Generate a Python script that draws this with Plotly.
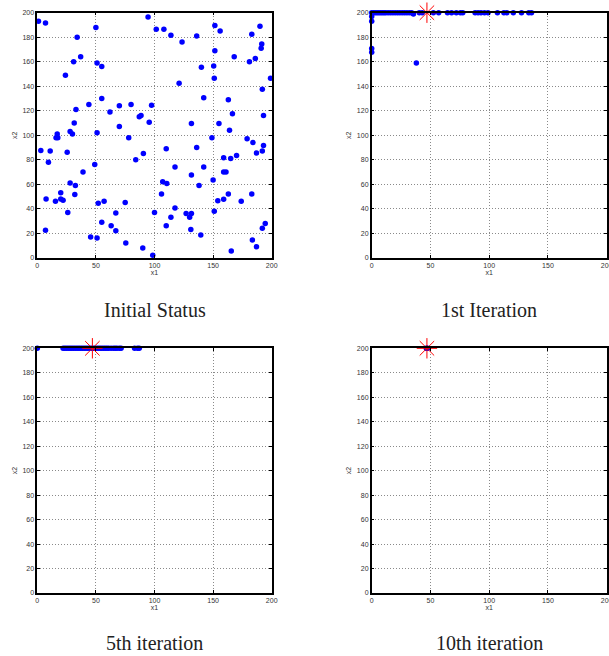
import plotly.graph_objects as go

# ---------------- data ----------------
init_x = [1, 7, 50, 34, 37, 31, 51, 55, 24, 55, 44, 70, 62, 33, 31.5, 80, 87, 88.5, 70, 28, 30, 17, 16, 17.5, 51, 78,
          3, 11, 9.5, 25.5, 49, 39, 84, 28, 32.5, 20, 32, 7.5, 20, 22, 15.5, 57, 52, 75, 26, 67, 7, 55, 63, 67, 45.5, 51, 75.5,
          164, 149, 179, 184, 193, 192, 187, 170, 159, 165, 110, 90.5, 136, 117.5, 142, 131.5, 159, 161, 107, 110.5, 138, 150,
          106, 163, 183, 154, 159, 174, 117.5, 100, 151, 127, 131.5, 130, 114, 110, 194.5, 192, 131, 139.5, 183.5, 187, 90, 98.5, 165.5,
          94.5, 101.5, 108, 114, 123.5, 136, 151.5, 156, 183, 190, 191.5, 191, 151.5, 168, 181, 186, 140, 150.5, 151, 199, 121, 192,
          142, 163, 97.5, 95.5, 131.5, 155, 166.5, 193]
init_y = [193, 191.5, 188, 180, 164, 160, 159, 156, 149, 130, 125, 124, 119, 121, 110, 125, 115, 116, 107, 103, 101, 101, 98, 98, 102, 98,
          87.5, 87, 78, 86, 76, 70, 80, 61, 59, 53, 51.5, 48, 48, 47, 46, 46, 44.5, 45, 37, 36.5, 22.5, 29, 26, 22, 17, 16, 12,
          104, 98, 97, 94, 91.5, 87, 85.5, 83.5, 81.5, 81, 89, 85, 90, 74, 74, 67.5, 70, 70, 62, 60.5, 59, 63.5,
          52, 52, 52, 46.5, 47.7, 46, 40.5, 37, 38, 36, 36, 33, 33, 26, 28, 24, 23, 18.5, 14.5, 9, 8, 2, 5.5,
          196.5, 186.5, 186.5, 181.5, 176, 181, 189.5, 185, 182.5, 189, 174.5, 171, 169, 164, 160, 162.7, 155.5, 156.5, 146.5, 146.5, 142.5, 137.5,
          130.5, 129, 124.5, 110.5, 109.5, 109.5, 117.5, 116]

it1_x = [0, 0, 0, 0, 0, 38, 1.5, 3, 4.5, 6, 7.5, 9, 10.5, 12, 14, 16, 18, 20, 22, 24, 26, 28, 30, 32, 34, 35.5,
         40.5, 43, 52.5, 57, 64.5, 68, 72, 75.5, 77.5, 88, 90.5, 93, 96, 99, 107, 112.5, 115, 120.5, 127.5, 133.7, 136]
it1_y = [200, 197, 193, 170.7, 167.7, 159, 200, 200, 200, 200, 200, 200, 200, 200, 200, 200, 200, 200, 200, 200, 200, 200, 200, 200, 200, 199,
         200, 200, 200, 200, 200, 200, 200, 200, 200, 200, 200, 200, 200, 200, 200, 200, 200, 200, 200, 200, 200]

it5_x = [0, 22, 23.5, 25, 26.5, 28, 29.5, 31, 32.5, 34, 35.5, 37, 38.5, 40, 41.5, 43, 44.5, 46, 47.5, 49, 50.5, 52, 53.5,
         55, 56.5, 58, 59.5, 61, 63, 65, 66.5, 68, 70, 71.5, 83, 85.5, 87]
it5_y = [200] * len(it5_x)

it10_x = [46.5, 47, 47.5]
it10_y = [200, 200, 200]

best_x = [47]
best_y = [200]

titles = ["Initial Status", "1st Iteration", "5th iteration", "10th iteration"]
x_ticks = [0, 50, 100, 150, 200]
y_ticks = [0, 20, 40, 60, 80, 100, 120, 140, 160, 180, 200]

# ---------------- figure ----------------
W, H = 609, 656
fig = go.Figure()

panels = [
    (init_x, init_y, False),
    (it1_x, it1_y, True),
    (it5_x, it5_y, True),
    (it10_x, it10_y, True),
]

# pixel boxes (left, right, top, bottom)
boxes = [
    (37.3, 271.7, 12.7, 257.7),
    (371.7, 606.7, 12.7, 257.7),
    (37.3, 271.7, 348.3, 593.0),
    (371.7, 606.7, 348.3, 593.0),
]

tickfont = dict(family="Liberation Sans, Arial, sans-serif", size=7, color="#333")
common = dict(
    range=[0, 200], showline=True, mirror="allticks", linecolor="black", linewidth=1.5,
    ticks="inside", ticklen=3, tickcolor="black", tickwidth=0.8,
    showgrid=True, gridcolor="#8a8a8a", griddash="1px,2px", gridwidth=0.8,
    zeroline=False, tickfont=tickfont, automargin=False, ticklabeloverflow="allow",
)

for i, ((xs, ys, star), (l, r, t, b)) in enumerate(zip(panels, boxes)):
    n = "" if i == 0 else str(i + 1)
    fig.add_trace(go.Scatter(
        x=xs, y=ys, mode="markers", xaxis="x" + n, yaxis="y" + n,
        marker=dict(color="#0000ff", size=5.5, line=dict(width=0)),
        cliponaxis=False, showlegend=False,
    ))
    if star:
        fig.add_trace(go.Scatter(
            x=best_x, y=best_y, mode="markers", xaxis="x" + n, yaxis="y" + n,
            marker=dict(symbol="asterisk-open", color="red", size=17, line=dict(width=1, color="red")),
            cliponaxis=False, showlegend=False,
        ))
    fig.update_layout(**{
        "xaxis" + n: dict(common, domain=[l / W, r / W], anchor="y" + n, tickvals=x_ticks,
                          title=dict(text="x1", font=dict(family="Liberation Sans, Arial", size=7, color="#333"), standoff=1)),
        "yaxis" + n: dict(common, domain=[1 - b / H, 1 - t / H], anchor="x" + n, tickvals=y_ticks,
                          title=dict(text="x2", font=dict(family="Liberation Sans, Arial", size=7, color="#333"), standoff=4)),
    })
    cy = 310 if i < 2 else 643
    fig.add_annotation(
        text=titles[i], x=(l + r) / 2 / W, y=1 - cy / H, xref="paper", yref="paper",
        showarrow=False, xanchor="center", yanchor="middle",
        font=dict(family="Liberation Serif, DejaVu Serif, serif", size=20, color="#222"),
    )

fig.update_layout(
    width=W, height=H, margin=dict(l=0, r=0, t=0, b=0),
    paper_bgcolor="white", plot_bgcolor="white", showlegend=False,
)

fig.write_html("out.html", config={"displayModeBar": False},
               post_script="document.body.style.margin='0';document.body.style.overflow='hidden';")
